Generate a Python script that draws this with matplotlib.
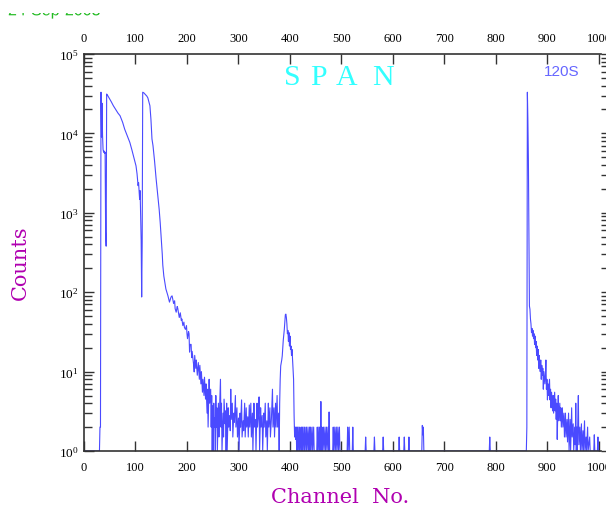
import matplotlib
matplotlib.use('Agg')
import matplotlib.pyplot as plt
from matplotlib.font_manager import FontProperties
from matplotlib.patches import PathPatch
from matplotlib.textpath import TextPath
from matplotlib.transforms import Affine2D, Bbox
from matplotlib.ticker import LogLocator, NullFormatter

plt.rcParams['font.family'] = 'Liberation Serif'
plt.rcParams['mathtext.fontset'] = 'custom'
plt.rcParams['mathtext.rm'] = 'Liberation Serif'

# spectrum, (channel, counts) per segment
first_peak = [(0, 1), (30, 1), (31, 2), (32, 2), (33, 33000), (34, 9000), (35, 24000),
              (36, 9500), (37, 6300), (38, 5800), (39, 6000), (40, 5600), (41, 5800),
              (42, 580), (43, 380)]
decay = [(44, 31300), (46, 30000), (49, 27800), (53, 25000), (57, 22300), (62, 19800),
         (66, 18000), (70, 16700), (75, 13800), (79, 11300), (84, 9300), (89, 7700),
         (93, 6200), (96, 5200), (99, 4400), (101, 3900), (103, 3100), (105, 2200),
         (106, 2400), (107, 1850), (108, 1480), (109, 1900), (110, 920), (111, 450),
         (112, 87), (113, 420)]
second_peak = [(114, 33000), (116, 32500), (118, 31500), (120, 30500), (122, 29500),
               (124, 28000), (126, 25000), (128, 22300), (129, 18000), (130, 15000),
               (131, 11000), (132, 8500), (134, 7000), (137, 4500), (140, 2700),
               (143, 1700), (146, 1100), (148, 750), (150, 470), (152, 300), (153, 220),
               (155, 160), (157, 133), (159, 110), (161, 100), (163, 90), (165, 80),
               (166, 75), (168, 83), (169, 87), (171, 90), (172, 84), (174, 72), (176, 78),
               (177, 62), (179, 56), (181, 66), (182, 63), (184, 52), (185, 48), (187, 55),
               (189, 44), (190, 46), (192, 38), (194, 42), (195, 36), (197, 34), (199, 38),
               (200, 30), (201, 26), (203, 32), (204, 30), (205, 17.6), (206, 22), (208, 22),
               (209, 15), (210, 18), (211, 15.8), (213, 12), (214, 9.9), (215, 16), (217, 11),
               (218, 14), (220, 9), (221, 10.8), (222, 13), (224, 8), (225, 12), (227, 7),
               (228, 10), (230, 5.5), (231, 8), (233, 5), (234, 8.5), (236, 4.5), (237, 7),
               (239, 3), (240, 6), (241, 2), (243, 8), (244, 4), (246, 6), (247, 2), (248, 5)]
noise_low = [(249, 1), (250, 3.7), (251, 1), (252, 4), (253, 2), (254, 2.6), (255, 1), (256, 5),
             (257, 2), (258, 3.5), (259, 1), (261, 4), (262, 1.5), (263, 3), (265, 8), (266, 2),
             (267, 4), (268, 1), (270, 3), (271, 1.5), (272, 4.5), (274, 2.2), (275, 3.2), (276, 1),
             (277, 4), (278, 1), (280, 3.5), (281, 2), (283, 2.8), (284, 1.8), (285, 6), (286, 2.5),
             (288, 4), (289, 1.5), (291, 3), (292, 2.3), (294, 5), (295, 2), (297, 3.5), (298, 1.5),
             (300, 2.6), (301, 1), (303, 3), (304, 2), (306, 4.4), (307, 1.5), (309, 2.4), (310, 1.8),
             (312, 4), (313, 1.5), (315, 3.5), (316, 2), (318, 2.7), (319, 1.5), (321, 3.8), (322, 2),
             (324, 4), (325, 1.5), (327, 3), (328, 1), (330, 4), (331, 2), (333, 2.5), (334, 1),
             (336, 4), (337, 2), (339, 3), (340, 4.8), (341, 1), (343, 3.5), (344, 2), (346, 2.8),
             (347, 1), (349, 3), (350, 2), (352, 4), (353, 1.5), (355, 2.4), (356, 1), (358, 4),
             (359, 2), (361, 3.5), (362, 1.5), (364, 2.6), (366, 6), (367, 2), (369, 3.5),
             (370, 1.5), (372, 4), (373, 2), (375, 5), (376, 2), (378, 3), (379, 1)]
peak_390 = [(380, 4), (381, 8), (382, 11.8), (384, 14), (385, 15.8), (387, 25), (389, 34),
            (390, 42), (391, 52), (392, 53), (393, 48), (394, 40), (395, 30), (396, 33),
            (397, 24), (398, 31), (399, 21), (400, 28), (401, 19), (402, 21), (403, 16),
            (404, 19), (405, 14.5), (406, 10.8), (407, 8), (408, 2.8), (409, 1.5), (410, 2),
            (411, 1.4), (412, 2)]
tail_low = [(413, 1), (414, 2), (415, 1), (416, 2), (418, 1), (419, 2), (420, 1), (422, 2),
            (423, 1), (424, 2), (425, 1), (427, 2), (428, 1), (429, 2), (431, 1), (432, 2),
            (433, 1), (435, 2), (436, 1), (438, 2), (439, 1), (440, 2), (441, 1), (443, 2),
            (444, 1), (446, 2), (447, 1), (452, 1), (453, 2), (454, 1), (456, 2), (457, 1),
            (458, 2), (459, 1), (460, 4.2), (461, 1), (462, 2), (463, 1), (465, 2), (466, 1),
            (468, 2), (469, 1), (471, 2), (472, 1), (474, 2), (475, 1), (476, 3.1), (477, 1),
            (483, 1), (484, 2), (485, 1), (487, 2), (488, 1), (490, 2), (491, 1), (493, 2),
            (494, 1), (496, 2), (497, 1), (511, 1), (512, 2), (513, 1), (515, 2), (516, 1),
            (521, 1), (522, 2), (523, 1)]
sparse = [(546, 1), (547, 1.5), (548, 1), (563, 1), (564, 1.5), (565, 1), (580, 1), (581, 1.5),
          (582, 1), (611, 1), (612, 1.5), (613, 1), (621, 1), (622, 1.5), (623, 1), (630, 1),
          (631, 1.5), (632, 1), (656, 1), (657, 2.1), (658, 1.6), (659, 2), (660, 1), (787, 1),
          (788, 1.5), (789, 1)]
peak_860 = [(859, 1), (860, 2), (861, 33000), (862, 15000), (863, 4700), (864, 470), (865, 67),
            (866, 61), (867, 46), (868, 40), (869, 31), (870, 35), (871, 28), (872, 33),
            (873, 26), (874, 30), (875, 22), (876, 28), (877, 20), (878, 24), (879, 16),
            (880, 21), (881, 14), (882, 19), (883, 11), (884, 16), (885, 12), (886, 10),
            (887, 14), (888, 8), (889, 12), (890, 9), (891, 11), (892, 6), (893, 10), (895, 7),
            (896, 9), (897, 14), (898, 6), (899, 8), (900, 4.4), (901, 7), (902, 5), (904, 8),
            (905, 4.4), (906, 6), (907, 3.5), (908, 5.5), (910, 3.2), (911, 5), (912, 3),
            (914, 5.5), (915, 3.2), (916, 4.5), (917, 2.5), (918, 4), (919, 1.4), (920, 3),
            (921, 5), (922, 2.4), (924, 4), (925, 2.4), (926, 3.5), (927, 2), (929, 3.5),
            (930, 2), (932, 3), (933, 1.5), (935, 3), (936, 1.5), (938, 2.5), (939, 1.3),
            (941, 3), (942, 1), (944, 2.5), (945, 1), (947, 3.5), (948, 1.5), (950, 2.2),
            (951, 1), (953, 2), (954, 1.2), (955, 4), (956, 1), (957, 2), (958, 1), (959, 2.5),
            (960, 5), (961, 1.2), (963, 2), (964, 1), (966, 2.2), (967, 1), (969, 1.8),
            (970, 1), (972, 2.4), (973, 1), (975, 1.5), (976, 1), (978, 2), (979, 1),
            (982, 1.5), (983, 1), (990, 1), (991, 1.6), (992, 1), (997, 1), (998, 1.5),
            (999, 1), (1000, 1)]

segments = [first_peak, decay, second_peak, noise_low, peak_390, tail_low, sparse, peak_860]
channel = [c for seg in segments for c, _ in seg]
counts = [n for seg in segments for _, n in seg]

x_ticks = list(range(0, 1001, 100))

W, H = 606, 510
fig = plt.figure(figsize=(W / 100, H / 100), dpi=100)
ax = fig.add_axes([84 / W, (H - 452) / H, 517 / W, 397 / H])

ax.plot(channel, counts, color='#4a4aff', lw=0.8)

ax.set_yscale('log')
ax.set_xlim(0, 1004)
ax.set_ylim(1, 1e5)
ax.set_xticks(x_ticks)
ax.yaxis.set_minor_locator(LogLocator(base=10, subs=range(2, 10), numticks=100))
ax.yaxis.set_minor_formatter(NullFormatter())

ax.tick_params(axis='x', direction='in', top=True, labeltop=True, length=7,
               width=1, color='#333333', labelsize=9, pad=7)
ax.tick_params(axis='y', which='major', direction='in', length=7.5, width=1,
               color='#333333', labelsize=9.5, pad=4)
ax.tick_params(axis='y', which='minor', direction='in', length=5.8, width=1,
               color='#333333')
for s in ['top', 'bottom', 'left']:
    ax.spines[s].set_color('#333333')
    ax.spines[s].set_linewidth(1.2)
ax.spines['right'].set_visible(False)

# short outward ticks on the right edge
ax2 = ax.twinx()
ax2.set_yscale('log')
ax2.set_ylim(1, 1e5)
ax2.yaxis.set_minor_locator(LogLocator(base=10, subs=range(2, 10), numticks=100))
ax2.tick_params(axis='y', which='both', direction='out', length=4, width=1,
                color='#333333', labelright=False)
for s in ax2.spines.values():
    s.set_visible(False)

# title letters, spaced out
for letter, xc in zip('SPAN', [292.5, 318.3, 347, 383.3]):
    fig.text(xc / W, 1 - 85 / H, letter, ha='center', va='baseline',
             fontsize=21.5, color='#33ffff', family='Liberation Serif')

fig.text(561.7 / W, 1 - 75.7 / H, '120S', ha='center', va='baseline',
         fontsize=11, color='#6666ff', family='Liberation Sans')

fig.text(20 / W, 1 - 263 / H, 'Counts', rotation=90, ha='center', va='center',
         fontsize=15, color='#b000b0', family='DejaVu Serif')
fig.text(340 / W, 1 - 498 / H, 'Channel  No.', ha='center', va='center',
         fontsize=15, color='#b000b0', family='DejaVu Serif')

# date stamp: only its lowest pixels show, the rest is cut off above
stamp_path = TextPath((0, 0), '24-Sep-2003', size=16,
                      prop=FontProperties(family='Liberation Sans'))
stamp = PathPatch(stamp_path, transform=Affine2D().translate(8, H - 16.3),
                  facecolor='#22bb22', edgecolor='none')
stamp.set_clip_box(Bbox([[0, 0], [W, H - 14.3]]))
fig.add_artist(stamp)

fig.savefig('out.png', dpi=100)
